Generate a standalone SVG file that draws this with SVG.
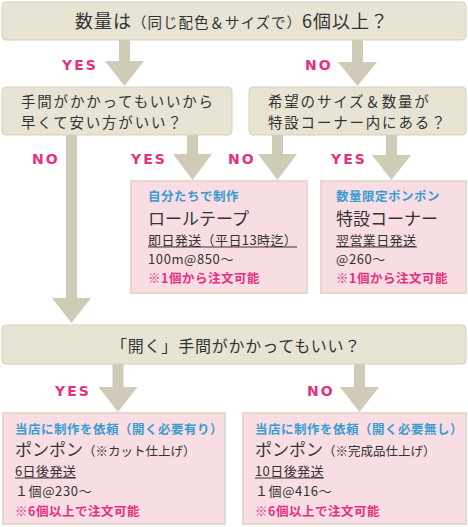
<svg xmlns="http://www.w3.org/2000/svg" width="468" height="527" viewBox="0 0 468 527">
<style>
.q{fill:#e8e4d4;stroke:#d6d1bd;stroke-width:1}
.r{fill:#f8dde3;stroke:#e6d8cc;stroke-width:2}
.ar{fill:#cfcbb7}
.t{font-family:"Noto Sans CJK JP","DejaVu Sans",sans-serif;fill:#333}
.lb{font-family:"DejaVu Sans","Liberation Sans",sans-serif;font-weight:bold;font-size:14px;fill:#e6307f;letter-spacing:2px}
.bl{font-family:"Noto Sans CJK JP",sans-serif;font-weight:bold;font-size:12.5px;fill:#3a9bd2;letter-spacing:0.5px}
.pk{font-family:"Noto Sans CJK JP",sans-serif;font-weight:bold;font-size:12.5px;fill:#e6307f;letter-spacing:0.5px}
.big{font-size:17px}
.md{font-size:13px}
.q2{font-size:14.5px;letter-spacing:1.8px}
</style>
<g id="connectors">
<polygon class="ar" points="119,40 130,40 130,61 144,61 124.5,86 105,61 119,61"/>
<polygon class="ar" points="352,40 363,40 363,62 377,62 357.5,86 338,62 352,62"/>
<polygon class="ar" points="66,135 77,135 77,298 91,298 71.5,323 52,298 66,298"/>
<polygon class="ar" points="187,135 198,135 198,154 212,154 192.5,180 173,154 187,154"/>
<polygon class="ar" points="272,135 283,135 283,154 297,154 277.5,180 258,154 272,154"/>
<polygon class="ar" points="386,135 397,135 397,155 411,155 391.5,180 372,155 386,155"/>
<polygon class="ar" points="112.5,364 123.5,364 123.5,387 137.5,387 118,412 98.5,387 112.5,387"/>
<polygon class="ar" points="354,364 365,364 365,387 379,387 359.5,412 340,387 354,387"/>
<text class="lb" x="62" y="70">YES</text>
<text class="lb" x="305" y="70">NO</text>
<text class="lb" x="32" y="164">NO</text>
<text class="lb" x="131" y="164">YES</text>
<text class="lb" x="228" y="164">NO</text>
<text class="lb" x="331" y="164">YES</text>
<text class="lb" x="55" y="396">YES</text>
<text class="lb" x="307" y="396">NO</text>
</g>
<g id="q1">
<rect class="q" x="2" y="2" width="464" height="38" rx="4"/>
<text class="t" x="232" y="28" text-anchor="middle" font-size="18" letter-spacing="1"><tspan>数量は</tspan><tspan font-size="14.5">（同じ配色＆サイズで）</tspan><tspan>6個以上？</tspan></text>
</g>
<g id="q2-left">
<rect class="q" x="2" y="87" width="230" height="48" rx="4"/>
<text class="t q2" x="21" y="106.5">手間がかかってもいいから</text>
<text class="t q2" x="21" y="128">早くて安い方がいい？</text>
</g>
<g id="q2-right">
<rect class="q" x="249" y="87" width="217" height="48" rx="4"/>
<text class="t q2" x="268" y="106.5">希望のサイズ＆数量が</text>
<text class="t q2" x="268" y="128">特設コーナー内にある？</text>
</g>
<g id="roll-tape">
<rect class="r" x="131" y="181" width="176" height="112"/>
<text class="bl" x="148" y="201">自分たちで制作</text>
<text class="t big" x="148" y="225">ロールテープ</text>
<text class="t md" x="148" y="245" letter-spacing="0.4">即日発送（平日13時迄）</text>
<rect x="148" y="246.5" width="149" height="1" fill="#333"/>
<text class="t md" x="148" y="264" letter-spacing="0.6">100m@850～</text>
<text class="pk" x="148" y="283">※1個から注文可能</text>
</g>
<g id="special-corner">
<rect class="r" x="321" y="181" width="145" height="112"/>
<text class="bl" x="336" y="201">数量限定ポンポン</text>
<text class="t big" x="336" y="225">特設コーナー</text>
<text class="t md" x="336" y="245" letter-spacing="0.4">翌営業日発送</text>
<rect x="336" y="246.5" width="81" height="1" fill="#333"/>
<text class="t md" x="336" y="264" letter-spacing="0.6">@260～</text>
<text class="pk" x="336" y="283">※1個から注文可能</text>
</g>
<g id="q3">
<rect class="q" x="2" y="325" width="464" height="39" rx="4"/>
<text class="t" x="236" y="352" text-anchor="middle" font-size="16" letter-spacing="0.8">「開く」手間がかかってもいい？</text>
</g>
<g id="pompom-cut">
<rect class="r" x="3" y="413" width="222" height="111"/>
<text class="bl" x="15" y="434">当店に制作を依頼（開く必要有り）</text>
<text class="t" x="15" y="456"><tspan class="big">ポンポン</tspan><tspan font-size="12.5">（※カット仕上げ）</tspan></text>
<text class="t md" x="15" y="476" letter-spacing="0.4">6日後発送</text>
<rect x="15" y="477.5" width="61" height="1" fill="#333"/>
<text class="t md" x="15" y="496" letter-spacing="0.6">１個@230～</text>
<text class="pk" x="15" y="516">※6個以上で注文可能</text>
</g>
<g id="pompom-finished">
<rect class="r" x="243" y="413" width="223" height="111"/>
<text class="bl" x="255" y="434">当店に制作を依頼（開く必要無し）</text>
<text class="t" x="255" y="456"><tspan class="big">ポンポン</tspan><tspan font-size="12.5">（※完成品仕上げ）</tspan></text>
<text class="t md" x="255" y="476" letter-spacing="0.4">10日後発送</text>
<rect x="255" y="477.5" width="69" height="1" fill="#333"/>
<text class="t md" x="255" y="496" letter-spacing="0.6">１個@416～</text>
<text class="pk" x="255" y="516">※6個以上で注文可能</text>
</g>
</svg>
